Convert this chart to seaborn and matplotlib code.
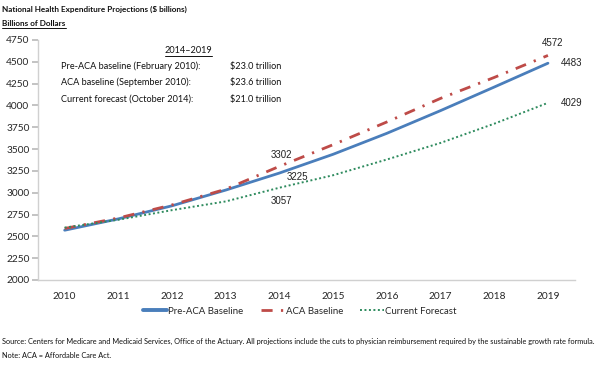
import matplotlib
matplotlib.use("Agg")
import matplotlib.pyplot as plt
import seaborn as sns
import pandas as pd
from matplotlib.lines import Line2D

years = [2010, 2011, 2012, 2013, 2014, 2015, 2016, 2017, 2018, 2019]
pre_aca = [2570, 2700, 2850, 3030, 3225, 3440, 3680, 3940, 4210, 4483]
aca = [2590, 2710, 2860, 3040, 3302, 3550, 3810, 4080, 4320, 4572]
current = [2600, 2690, 2800, 2900, 3057, 3200, 3380, 3570, 3790, 4029]
series_names = ["Pre-ACA Baseline", "ACA Baseline", "Current Forecast"]
yticks = [2000, 2250, 2500, 2750, 3000, 3250, 3500, 3750, 4000, 4250, 4500, 4750]

sns.set_theme(style="white")
plt.rcParams['font.family'] = ['Lato', 'DejaVu Sans']

df = pd.DataFrame({
    "year": years * 3,
    "value": pre_aca + aca + current,
    "series": [series_names[0]] * 10 + [series_names[1]] * 10 + [series_names[2]] * 10,
})

fig = plt.figure(figsize=(6, 3.66), dpi=100)
ax = fig.add_axes([0.063, 0.235, 0.895, 0.656])

colors = {"Pre-ACA Baseline": "#4A7EBB", "ACA Baseline": "#BE4B48", "Current Forecast": "#2E8B5E"}
styles = {"Pre-ACA Baseline": dict(lw=2.0, ls="-"),
          "ACA Baseline": dict(lw=2.0, ls=(0, (4, 3, 0.8, 3))),
          "Current Forecast": dict(lw=1.4, ls=(0, (1, 1.3)))}

for name in series_names:
    sub = df[df.series == name]
    sns.lineplot(data=sub, x="year", y="value", ax=ax, color=colors[name],
                 linewidth=styles[name]["lw"], linestyle=styles[name]["ls"], legend=False)

ax.set_xlim(2009.5, 2019.5)
ax.set_ylim(2000, 4750)
ax.set_xticks(years)
ax.set_yticks(yticks)
ax.set_xlabel("")
ax.set_ylabel("")
for s in ["top", "right"]:
    ax.spines[s].set_visible(False)
for s in ["left", "bottom"]:
    ax.spines[s].set_color("#D0D0D0")
    ax.spines[s].set_linewidth(1.0)
ax.tick_params(axis="y", which="both", left=True, length=4, color="#BBBBBB", labelsize=7.3, pad=2)
ax.tick_params(axis="x", which="both", bottom=False, labelsize=7.3, pad=3)

# data labels
lab = dict(fontsize=7, family=["Liberation Sans", "DejaVu Sans"], color="#222222")
def label(x, y, dx, dy):
    ax.annotate(f"{y}", (x, y), xytext=(dx, dy), textcoords="offset points",
                ha="center", va="center", **lab)
label(years[4], aca[4], 1.5, 8)
label(years[4], pre_aca[4], 12.6, -2.7)
label(years[4], current[4], 1.5, -9.3)
label(years[9], aca[9], 3, 8.8)
label(years[9], pre_aca[9], 17, 0)
label(years[9], current[9], 17, 0)

# inset text
fs_in = 6.6
t_hdr = fig.text(188.5/600, 1-50.7/366, "2014–2019", ha="center", va="center", fontsize=fs_in, color="#111111")
rows = [("Pre-ACA baseline (February 2010):", "$23.0 trillion"),
        ("ACA baseline (September 2010):", "$23.6 trillion"),
        ("Current forecast (October 2014):", "$21.0 trillion")]
for i, (a, b) in enumerate(rows):
    y = 1 - (66 + i*16.6)/366
    fig.text(61.5/600, y, a, ha="left", va="center", fontsize=fs_in, color="#111111")
    fig.text(230/600, y, b.replace("$", r"\$"), ha="left", va="center", fontsize=fs_in, color="#111111")

# titles
fig.text(0.004, 1-9/366, "National Health Expenditure Projections ($ billions)".replace("$", r"\$"),
         ha="left", va="center", fontsize=5.9, fontweight="bold", color="#111111")
t_sub = fig.text(0.004, 1-24/366, "Billions of Dollars", ha="left", va="center", fontsize=5.9,
                 fontweight="bold", color="#111111")

# legend
handles = [Line2D([], [], color=colors[n], lw=styles[n]["lw"] + (0.8 if n == "Pre-ACA Baseline" else 0),
                  ls=styles[n]["ls"]) for n in series_names]
fig.legend(handles, series_names, loc="center", bbox_to_anchor=(0.5, 1-311/366), ncol=3,
           frameon=False, fontsize=6.9, handlelength=2.5, handletextpad=0.1, columnspacing=1.8)

# source notes
fig.text(0.004, 1-341/366, "Source: Centers for Medicare and Medicaid Services, Office of the Actuary. All projections include the cuts to physician reimbursement required by the sustainable growth rate formula.",
         ha="left", va="center", fontsize=5.3, color="#111111")
fig.text(0.004, 1-355/366, "Note: ACA = Affordable Care Act.", ha="left", va="center", fontsize=5.3, color="#111111")

# underlines
fig.canvas.draw()
r = fig.canvas.get_renderer()
inv = fig.transFigure.inverted()
for t in (t_hdr, t_sub):
    bb = t.get_window_extent(r)
    (x0, y0), (x1, y1) = inv.transform([(bb.x0, bb.y0), (bb.x1, bb.y0)])
    fig.add_artist(Line2D([x0, x1], [y0 - 0.002, y0 - 0.002], transform=fig.transFigure,
                          color="#111111", lw=0.7))

fig.savefig("out.png", dpi=100)
